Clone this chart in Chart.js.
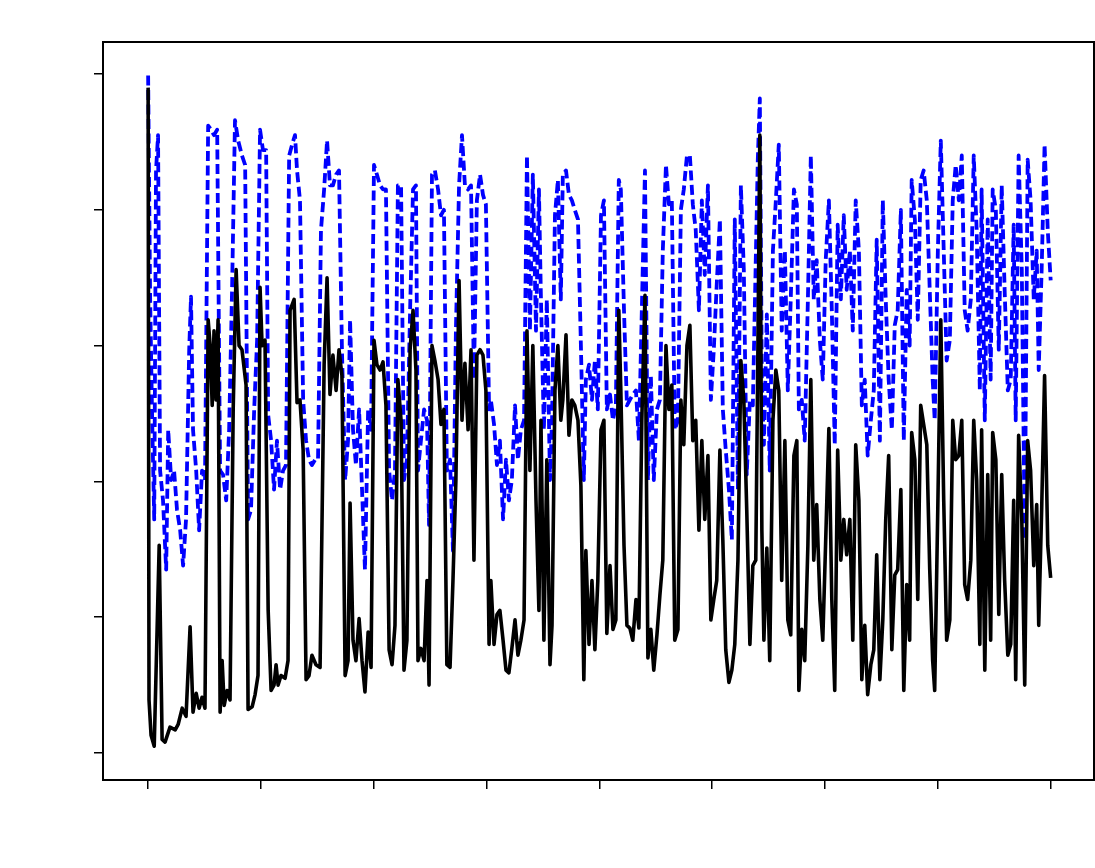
<!DOCTYPE html>
<html>
<head>
<meta charset="utf-8">
<script src="https://cdn.jsdelivr.net/npm/chart.js@4.4.1/dist/chart.umd.min.js"></script>
<style>
html,body{margin:0;padding:0;background:#fff;}
canvas{display:block;}
</style>
</head>
<body>
<canvas id="c" width="1095" height="868"></canvas>
<script>
// ---- data ----
const xTickValues = [0, 50, 100, 150, 200, 250, 300, 350, 400];
const yTickValues = [0, 1, 2, 3, 4, 5];

const solidX = [0,0.4,1.3,2.7,4.9,6.2,7.5,9.7,12.0,13.3,15.1,16.8,18.6,19.9,21.3,22.6,23.9,25.2,26.6,27.5,28.4,29.2,30.1,31.0,31.9,32.8,33.7,35.0,36.3,37.7,39.0,40.3,41.6,43.4,44.3,46.1,47.4,48.7,49.6,50.5,51.8,53.2,54.5,55.8,56.7,57.6,58.9,60.7,62.0,62.9,64.7,66.0,67.3,68.7,70.0,71.3,72.6,74.4,76.2,78.0,79.3,80.6,81.9,83.3,84.6,85.9,87.3,88.6,89.5,90.8,92.1,93.5,94.8,96.1,97.5,98.8,100.1,101.4,102.8,104.1,105.4,106.8,108.1,109.4,110.7,112.1,113.4,114.7,116.1,117.4,118.7,119.6,120.9,122.3,123.6,124.5,125.8,127.1,128.5,129.8,131.1,132.4,133.8,135.1,136.4,137.8,139.1,140.4,141.8,143.1,144.4,145.7,147.1,148.4,149.7,151.1,151.9,153.3,154.6,155.9,157.3,158.6,159.9,161.2,162.6,163.9,165.2,166.6,167.9,169.2,170.5,171.9,173.2,174.1,175.4,176.7,178.1,179.0,180.3,181.6,182.9,183.8,185.2,186.5,187.8,189.1,190.5,191.8,193.1,194.0,195.4,196.7,198.0,199.3,200.7,202.0,203.3,204.7,206.0,207.3,208.6,209.5,210.9,212.2,213.5,214.8,216.2,217.5,218.8,220.2,221.5,222.8,224.1,225.5,226.8,228.1,229.5,230.8,232.1,233.4,234.8,236.1,237.4,238.8,240.1,241.4,242.7,244.1,245.4,246.7,248.1,249.4,250.7,252.0,253.4,254.7,256.0,257.4,258.7,260.0,261.4,262.7,264.0,265.3,266.7,268.0,269.3,270.2,271.1,272.0,272.9,274.2,275.5,276.9,278.2,279.5,280.8,282.2,283.5,284.8,286.2,287.5,288.4,289.7,291.0,292.4,293.7,295.0,296.3,297.7,299.0,300.3,301.7,303.0,304.3,305.6,307.0,308.3,309.6,311.0,312.3,313.6,315.0,316.3,317.6,318.9,320.3,321.6,322.9,324.3,325.6,326.9,328.2,329.6,330.9,332.2,333.6,334.9,336.2,337.5,338.4,339.8,341.1,342.4,343.7,345.1,346.4,347.7,348.6,350.0,351.3,352.6,353.9,355.3,356.6,357.9,359.3,360.6,361.9,363.2,364.6,365.9,367.2,368.6,369.4,370.8,372.1,373.4,374.3,375.7,377.0,378.3,379.6,381.0,382.3,383.6,384.5,385.8,387.2,388.5,389.8,391.1,392.5,393.8,394.7,396.0,397.3,398.7,400.0];

const solidY = [4.90,0.39,0.13,0.05,1.53,0.10,0.08,0.19,0.17,0.21,0.33,0.27,0.93,0.30,0.44,0.33,0.41,0.33,3.19,3.00,2.56,3.11,2.60,3.19,0.30,0.68,0.35,0.46,0.39,2.53,3.56,3.00,2.97,2.71,0.32,0.34,0.43,0.57,3.43,3.00,3.04,1.05,0.46,0.50,0.65,0.50,0.57,0.55,0.68,3.26,3.34,2.58,2.60,2.23,0.54,0.57,0.72,0.65,0.63,2.86,3.50,2.64,2.93,2.67,2.97,2.78,0.57,0.68,1.84,0.83,0.68,0.99,0.68,0.45,0.89,0.63,3.04,2.86,2.82,2.88,2.56,0.76,0.65,0.94,2.75,2.45,0.61,0.83,2.97,3.26,2.82,0.68,0.77,0.68,1.27,0.50,3.00,2.89,2.75,2.42,2.53,0.65,0.63,1.27,2.01,3.48,2.45,2.87,2.38,2.97,1.42,2.93,2.97,2.93,2.67,0.80,1.27,0.80,1.02,1.05,0.83,0.61,0.59,0.77,0.98,0.72,0.83,0.98,3.11,2.08,3.00,1.86,1.05,2.45,0.83,2.16,0.65,0.94,2.67,3.00,2.45,2.60,3.08,2.34,2.60,2.56,2.45,1.97,0.54,1.49,0.80,1.27,0.76,1.27,2.38,2.45,0.88,1.38,0.91,0.98,3.26,2.67,1.53,0.94,0.92,0.83,1.13,0.92,2.45,3.37,0.70,0.91,0.61,0.87,1.16,1.42,3.00,2.53,2.71,0.83,0.91,2.60,2.27,3.00,3.15,2.30,2.45,1.64,2.30,1.72,2.19,0.98,1.13,1.27,2.23,1.57,0.76,0.52,0.61,0.80,1.42,2.89,2.60,1.79,0.80,1.38,1.42,2.89,4.55,1.64,0.83,1.51,0.68,2.45,2.82,2.67,1.27,2.30,0.98,0.87,2.19,2.30,0.46,0.91,0.68,1.53,2.75,1.42,1.83,1.13,0.83,1.57,2.39,1.13,0.46,2.23,1.42,1.72,1.46,1.72,0.83,2.27,1.86,0.54,0.94,0.43,0.65,0.76,1.46,0.54,0.98,1.72,2.19,0.76,1.31,1.35,1.94,0.46,1.24,0.83,2.36,2.16,1.13,2.56,2.42,2.27,1.35,0.68,0.46,1.83,3.19,1.86,0.83,0.98,2.45,2.16,2.19,2.45,1.24,1.13,1.42,2.45,2.01,0.80,2.38,0.61,2.05,0.83,2.36,2.16,1.02,2.05,1.27,0.72,0.80,1.86,0.54,2.34,1.72,0.50,2.30,2.08,1.38,1.83,0.94,1.79,2.78,1.53,1.29];

const dashedX = [0,0.9,1.8,2.7,3.5,4.4,5.3,6.6,8.0,8.9,10.2,11.5,12.8,14.2,15.5,16.8,18.2,19.0,19.9,21.3,22.6,23.9,25.2,26.6,27.9,29.2,30.6,31.9,33.2,34.6,35.9,37.2,38.5,39.9,41.6,43.0,44.3,45.6,47.0,48.3,49.6,50.9,52.3,53.2,54.5,55.8,57.1,58.5,59.8,61.1,62.5,63.8,65.1,66.0,67.3,68.7,70.0,71.3,72.6,74.0,75.3,76.6,78.0,79.3,80.6,81.9,83.3,84.6,85.9,87.3,88.6,89.5,90.8,92.1,93.5,94.8,96.1,97.5,98.8,100.1,101.4,102.8,104.1,105.4,106.8,108.1,109.4,110.7,112.1,113.4,114.7,116.1,117.4,118.7,119.6,120.9,122.3,123.6,124.5,125.8,127.1,128.5,129.8,131.1,132.4,133.8,135.1,136.4,137.8,139.1,140.4,141.8,143.1,144.4,145.7,147.1,148.4,149.7,151.1,151.9,153.3,154.6,155.9,157.3,158.6,159.9,161.2,162.6,163.9,165.2,166.6,167.9,169.2,170.5,171.9,173.2,174.1,175.4,176.7,178.1,179.0,180.3,181.6,182.9,183.8,185.2,186.5,187.8,189.1,190.5,191.8,193.1,194.0,195.4,196.7,198.0,199.3,200.7,202.0,203.3,204.7,206.0,207.3,208.6,209.5,210.9,212.2,213.5,214.8,216.2,217.5,218.8,220.2,221.5,222.8,224.1,225.5,226.8,228.1,229.5,230.8,232.1,233.4,234.8,236.1,237.4,238.8,240.1,241.4,242.7,244.1,245.4,246.7,248.1,249.4,250.7,252.0,253.4,254.7,256.0,257.4,258.7,260.0,261.4,262.7,264.0,265.3,266.7,268.0,269.3,270.2,271.1,272.0,272.9,274.2,275.5,276.9,278.2,279.5,280.8,282.2,283.5,284.8,286.2,287.5,288.4,289.7,291.0,292.4,293.7,295.0,296.3,297.7,299.0,300.3,301.7,303.0,304.3,305.6,307.0,308.3,309.6,311.0,312.3,313.6,315.0,316.3,317.6,318.9,320.3,321.6,322.9,324.3,325.6,326.9,328.2,329.6,330.9,332.2,333.6,334.9,336.2,337.5,338.4,339.8,341.1,342.4,343.7,345.1,346.4,347.7,348.6,350.0,351.3,352.6,353.9,355.3,356.6,357.9,359.3,360.6,361.9,363.2,364.6,365.9,367.2,368.6,369.4,370.8,372.1,373.4,374.3,375.7,377.0,378.3,379.6,381.0,382.3,383.6,384.5,385.8,387.2,388.5,389.8,391.1,392.5,393.8,394.7,396.0,397.3,398.7,400.0];

const dashedY = [4.99,3.34,2.45,1.72,4.29,4.55,2.08,1.86,1.35,2.38,2.01,2.08,1.79,1.64,1.38,1.72,2.97,3.36,2.38,2.08,1.64,2.08,2.01,4.62,4.59,4.55,4.59,2.08,2.05,1.86,2.38,3.41,4.66,4.51,4.40,4.33,1.72,1.79,2.53,3.04,4.59,4.44,4.44,2.49,2.30,1.94,2.30,1.94,2.08,2.12,4.40,4.48,4.55,4.29,4.07,2.60,2.30,2.16,2.12,2.16,2.16,3.85,4.15,4.51,4.18,4.18,4.26,4.29,2.97,2.01,2.30,3.19,2.38,2.12,2.53,1.94,1.35,2.53,2.38,4.33,4.26,4.18,4.15,4.15,2.08,1.86,2.08,4.18,4.18,2.01,2.16,3.26,4.15,4.18,2.08,2.30,2.53,2.45,1.68,4.26,4.29,4.15,3.96,4.00,2.08,2.16,1.49,3.11,4.18,4.55,4.18,4.15,4.18,2.75,4.07,4.26,4.11,4.04,2.53,2.60,2.42,2.12,2.30,1.72,2.16,1.86,2.01,2.56,2.16,2.38,2.45,4.40,3.11,4.26,3.11,4.15,3.34,2.38,3.34,2.01,2.45,3.96,4.22,3.34,4.26,4.29,4.11,4.07,4.00,3.93,3.00,2.01,2.75,2.86,2.60,2.89,2.53,3.96,4.07,2.53,2.64,2.45,2.56,4.22,4.15,3.26,2.56,2.60,2.64,2.67,2.30,3.26,4.29,2.01,2.78,2.01,2.53,2.60,3.70,4.33,4.04,4.07,2.38,2.45,4.00,4.15,4.40,4.40,4.04,3.85,3.26,4.07,3.52,4.18,2.60,2.97,3.45,3.93,2.53,2.23,1.94,1.57,3.93,1.94,4.18,3.56,2.05,2.60,2.56,3.63,4.37,4.82,2.75,2.27,3.23,2.08,3.70,4.07,4.48,3.11,3.70,2.67,3.34,4.15,4.04,2.53,2.60,2.30,3.34,4.40,3.34,3.63,3.04,2.75,3.63,4.07,3.26,2.27,3.89,3.34,3.96,3.41,3.70,3.11,4.07,3.70,2.56,2.75,2.19,2.45,2.67,3.78,2.30,4.07,3.34,2.75,2.38,3.15,3.26,4.00,2.30,3.41,3.00,4.22,3.93,3.19,4.22,4.29,4.07,3.41,2.75,2.45,3.70,4.51,3.70,2.89,3.04,4.07,4.33,4.07,4.40,3.26,3.11,3.34,4.40,3.85,2.67,4.15,2.45,3.93,2.75,4.15,4.00,2.97,4.18,3.41,2.67,2.75,3.89,2.45,4.40,3.56,1.57,4.37,4.07,3.34,3.70,2.82,3.56,4.48,3.85,3.48];

// ---- build chart ----
function pts(xs, ys){ return xs.map((x,i)=>({x:x, y:ys[i]})); }

const framePlugin = {
  id: 'frame',
  afterDraw(chart){
    const a = chart.chartArea, ctx = chart.ctx;
    ctx.save();
    ctx.strokeStyle = '#000';
    ctx.lineWidth = 2;
    ctx.strokeRect(a.left, a.top, a.right - a.left, a.bottom - a.top);
    ctx.restore();
  }
};

new Chart(document.getElementById('c'), {
  type: 'line',
  data: {
    datasets: [
      {
        label: 'solid',
        data: pts(solidX, solidY),
        borderColor: '#000000',
        borderWidth: 3.6,
        pointRadius: 0,
        tension: 0,
        fill: false,
        borderJoinStyle: 'round',
        order: 0
      },
      {
        label: 'dashed',
        data: pts(dashedX, dashedY),
        borderColor: '#0000ff',
        borderWidth: 3.8,
        borderDash: [10, 4.5],
        pointRadius: 0,
        tension: 0,
        fill: false,
        borderJoinStyle: 'round',
        order: 1
      }
    ]
  },
  options: {
    responsive: false,
    animation: false,
    devicePixelRatio: 1,
    layout: { padding: { left: 0, right: 1, top: 42, bottom: 0 } },
    plugins: { legend: { display: false }, tooltip: { enabled: false }, title: { display: false } },
    scales: {
      x: {
        type: 'linear',
        min: -20,
        max: 419.2,
        afterBuildTicks(s){ s.ticks = xTickValues.map(v => ({value: v})); },
        afterFit(s){ s.height = 88; },
        ticks: { color: '#ffffff', font: { family: 'DejaVu Sans', size: 14 }, padding: 6 },
        grid: { display: true, drawOnChartArea: false, drawTicks: true, tickLength: 9, color: '#000', lineWidth: 1.5 },
        border: { display: true, color: '#000', width: 2 }
      },
      y: {
        type: 'linear',
        min: -0.199,
        max: 5.236,
        afterBuildTicks(s){ s.ticks = yTickValues.map(v => ({value: v})); },
        afterFit(s){ s.width = 103; },
        ticks: { color: '#ffffff', font: { family: 'DejaVu Sans', size: 14 }, padding: 6 },
        grid: { display: true, drawOnChartArea: false, drawTicks: true, tickLength: 9, color: '#000', lineWidth: 1.5 },
        border: { display: true, color: '#000', width: 2 }
      }
    }
  },
  plugins: [framePlugin]
});
</script>
</body>
</html>
